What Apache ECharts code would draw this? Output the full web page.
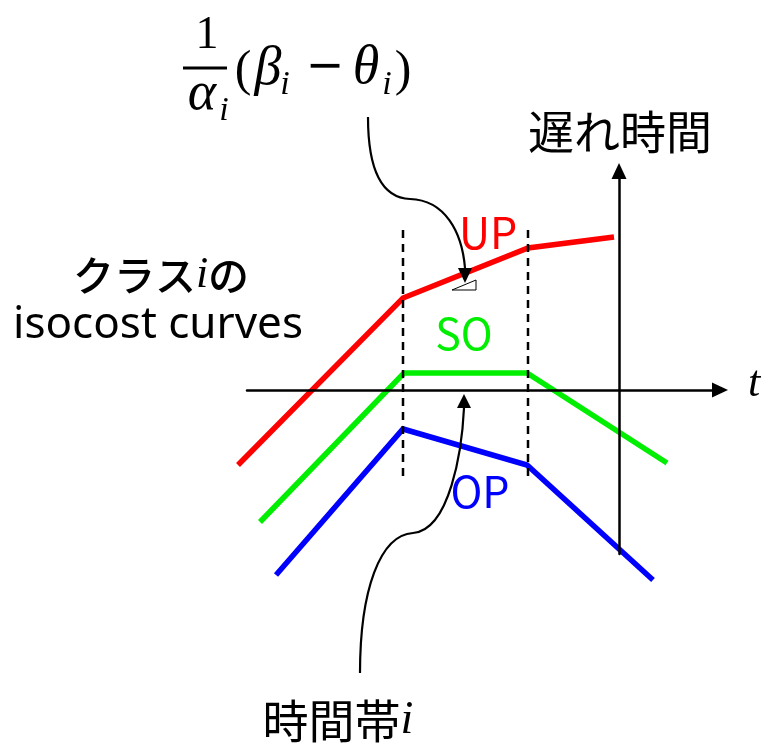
<!DOCTYPE html>
<html>
<head>
<meta charset="utf-8">
<script src="https://cdn.jsdelivr.net/npm/echarts@6/dist/echarts.min.js"></script>
<style>
  html, body { margin: 0; padding: 0; background: #fff; }
  #chart { width: 769px; height: 750px; }
</style>
</head>
<body>
<div id="chart"></div>
<script>
// 座標: t 軸 (x) と 遅れ時間 (y), 原点は軸の交点
const upCurve = [[-38.1, -7.5], [-21.6, 9.2], [-9.1, 14.2], [-0.5, 15.3]]
const soCurve = [[-35.9, -13.2], [-21.5, 1.7], [-9.2, 1.7], [4.8, -7.3]]
const opCurve = [[-34.3, -18.5], [-21.6, -3.9], [-9.2, -7.5], [3.4, -19.0]]
const curveNames = ['UP', 'SO', 'OP']
const curveColors = ['#ff0000', '#00ee00', '#0000ff']

// 時間帯 i の境界 (破線)
const bandStart = [[-21.6, 16.0], [-21.6, -9.0]]
const bandEnd = [[-9.1, 16.0], [-9.1, -9.0]]

// 傾きの三角形
const slopeTriangle = [[-16.7, 10.0], [-14.3, 11.0], [-14.3, 10.0], [-16.7, 10.0]]

// 注釈の曲線矢印 (始点, 制御点, 制御点, 点, 制御点, 制御点, 終点) と矢先
const arrowCurves = [
  {
    pts: [[-25.1, 27.3], [-25.1, 21.5], [-23.4, 19.2], [-20.9, 19.1], [-17.4, 19.0], [-15.7, 15.8], [-15.4, 12.2]],
    tip: [-15.4, 10.7]
  },
  {
    pts: [[-25.9, -28.3], [-25.9, -20.0], [-23.9, -14.5], [-20.6, -14.3], [-16.9, -14.0], [-15.7, -6.0], [-15.5, -1.8]],
    tip: [-15.5, -0.4]
  }
]

const myChart = echarts.init(document.getElementById('chart'))

const jp = '"Noto Sans CJK JP", "Noto Sans", sans-serif'
const math = '"Liberation Serif", "DejaVu Serif", serif'

const dashSeries = (data) => ({
  type: 'line',
  data: data,
  symbol: 'none',
  clip: false,
  silent: true,
  z: 3,
  lineStyle: { color: '#000', width: 2.5, type: [8, 6] }
})

const txt = (text, x, y, size, color, extra) => ({
  type: 'text',
  x: x,
  y: y,
  style: Object.assign({
    text: text,
    fill: color || '#000',
    font: size + 'px ' + jp,
    align: 'center',
    verticalAlign: 'middle'
  }, extra || {})
})

const mathTxt = (text, x, y, size, italic, family) => txt(text, x, y, size, '#000', {
  font: (italic ? 'italic ' : '') + size + 'px ' + (family || math)
})

const axisCommon = {
  type: 'value',
  z: 5,
  axisLine: {
    show: true,
    onZero: true,
    symbol: ['none', 'triangle'],
    symbolSize: [15, 16],
    lineStyle: { color: '#000', width: 2.5 }
  },
  axisTick: { show: false },
  axisLabel: { show: false },
  splitLine: { show: false }
}

myChart.setOption({
  animation: false,
  backgroundColor: '#fff',
  grid: { left: 247, right: 49, top: 171, bottom: 196 },
  xAxis: Object.assign({ min: -37.2, max: 10.1 }, axisCommon),
  yAxis: Object.assign({ min: -16.4, max: 21.9 }, axisCommon),
  series: [
    {
      // isocost curves (UP / SO / OP)
      type: 'custom',
      z: 2,
      silent: true,
      data: [[-20, 0], [-20, 0], [-20, 0]],
      renderItem: (params, api) => {
        const pts = [upCurve, soCurve, opCurve][params.dataIndex].map((pt) => api.coord(pt))
        return {
          type: 'polyline',
          name: curveNames[params.dataIndex],
          shape: { points: pts },
          style: { stroke: curveColors[params.dataIndex], lineWidth: 5.5, fill: null, lineJoin: 'miter' }
        }
      }
    },
    dashSeries(bandStart),
    dashSeries(bandEnd),
    {
      type: 'line',
      data: slopeTriangle,
      symbol: 'none',
      clip: false,
      silent: true,
      z: 3,
      lineStyle: { color: '#000', width: 1 }
    },
    {
      type: 'custom',
      z: 4,
      silent: true,
      data: [[-20, 0], [-20, 0]],
      renderItem: (params, api) => {
        const c = arrowCurves[params.dataIndex]
        const p = c.pts.map((pt) => api.coord(pt))
        const tip = api.coord(c.tip)
        const base = p[6]
        const dx = tip[0] - base[0]
        const dy = tip[1] - base[1]
        const len = Math.sqrt(dx * dx + dy * dy)
        const nx = -dy / len * 7
        const ny = dx / len * 7
        const stroke = { stroke: '#000', lineWidth: 2.2, fill: null }
        return {
          type: 'group',
          children: [
            {
              type: 'bezierCurve',
              shape: { x1: p[0][0], y1: p[0][1], cpx1: p[1][0], cpy1: p[1][1], cpx2: p[2][0], cpy2: p[2][1], x2: p[3][0], y2: p[3][1] },
              style: stroke
            },
            {
              type: 'bezierCurve',
              shape: { x1: p[3][0], y1: p[3][1], cpx1: p[4][0], cpy1: p[4][1], cpx2: p[5][0], cpy2: p[5][1], x2: p[6][0], y2: p[6][1] },
              style: stroke
            },
            {
              type: 'polygon',
              shape: { points: [tip, [base[0] + nx, base[1] + ny], [base[0] - nx, base[1] - ny]] },
              style: { fill: '#000' }
            }
          ]
        }
      }
    }
  ],
  graphic: [
    // 式 1/α_i (β_i − θ_i)
    mathTxt('1', 207, 36, 46),
    { type: 'line', shape: { x1: 183, y1: 68, x2: 227, y2: 68 }, style: { stroke: '#000', lineWidth: 3 } },
    mathTxt('α', 202, 95, 54, true),
    mathTxt('i', 224, 111, 34, true),
    mathTxt('(', 243, 72, 50),
    mathTxt('β', 268, 70, 54, true),
    mathTxt('i', 285, 85, 34, true),
    mathTxt('−', 325, 68, 46, false, '"DejaVu Sans", sans-serif'),
    mathTxt('θ', 366, 69, 54, true),
    mathTxt('i', 387, 85, 34, true),
    mathTxt(')', 403, 72, 50),
    // ラベル
    txt('遅れ時間', 620, 132, 46),
    mathTxt('t', 754, 384, 44, true),
    txt('UP', 488, 233, 43, '#ff0000'),
    txt('SO', 464, 334, 43, '#00ee00'),
    txt('OP', 480, 492, 43, '#0000ff'),
    {
      type: 'text',
      x: 161,
      y: 275,
      style: {
        text: '{a|クラス}{b|i}{a|の}',
        align: 'center',
        verticalAlign: 'middle',
        rich: {
          a: { font: '500 41px ' + jp, fill: '#000' },
          b: { font: 'italic 44px ' + math, fill: '#000' }
        }
      }
    },
    txt('isocost curves', 158, 325, 44, '#000', { font: '44px "Noto Sans", sans-serif' }),
    {
      type: 'text',
      x: 338,
      y: 721,
      style: {
        text: '{a|時間帯}{b|i}',
        align: 'center',
        verticalAlign: 'middle',
        rich: {
          a: { font: '46px ' + jp, fill: '#000' },
          b: { font: 'italic 46px ' + math, fill: '#000' }
        }
      }
    }
  ]
})
</script>
</body>
</html>
